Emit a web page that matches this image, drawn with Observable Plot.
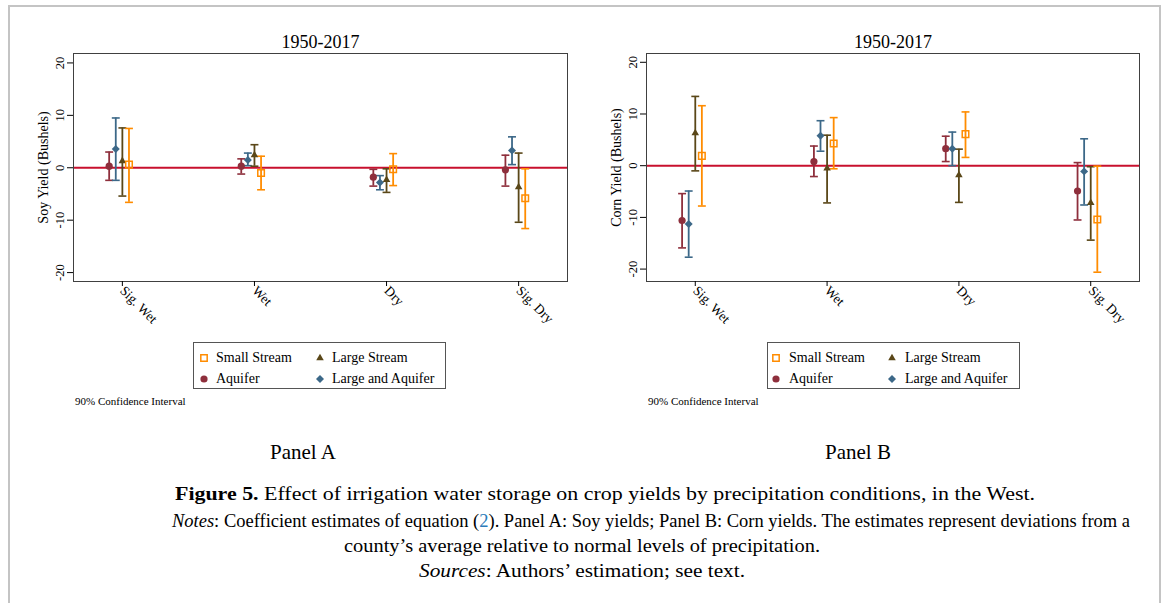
<!DOCTYPE html>
<html><head><meta charset="utf-8">
<script src="https://cdn.jsdelivr.net/npm/d3@7"></script>
<script src="https://cdn.jsdelivr.net/npm/@observablehq/plot@0.6"></script>
<style>
body{margin:0;background:#fff;}
#wrap{position:relative;width:1171px;height:603px;overflow:hidden;background:#fff;font-family:"Liberation Serif","Times New Roman",serif;color:#000;}
#border{position:absolute;left:8px;top:5px;width:1153px;height:660px;border:2px solid #c4c4c4;box-sizing:border-box;}
.panel{position:absolute;top:0;}
.legend{position:absolute;border:1px solid #555;background:#fff;box-sizing:border-box;}
.lt{position:absolute;font-size:14px;line-height:14px;white-space:nowrap;}
.abs{position:absolute;white-space:nowrap;}
.cap{position:absolute;white-space:nowrap;font-size:19px;line-height:20px;transform-origin:0 50%;}
</style></head>
<body><div id="wrap"><div id="border"></div></div>
<script>
// ---- data ----
const categories = ["Sig. Wet", "Wet", "Dry", "Sig. Dry"];
const seriesNames = ["Aquifer", "Large and Aquifer", "Large Stream", "Small Stream"];
const yTicks = [-20, -10, 0, 10, 20];

// Panel A: Soy yields (estimate, lower, upper per category)
const soyAquifer     = [0.3, 0.3, -1.8, -0.4];
const soyAquiferLo   = [-2.4, -1.2, -3.5, -3.5];
const soyAquiferHi   = [3.0, 1.7, -0.3, 2.4];
const soyLargeAq     = [3.6, 1.5, -2.8, 3.3];
const soyLargeAqLo   = [-2.4, 0.4, -4.2, 0.6];
const soyLargeAqHi   = [9.5, 2.8, -1.5, 5.9];
const soyLarge       = [1.3, 2.4, -2.3, -3.7];
const soyLargeLo     = [-5.4, 0.3, -4.7, -10.4];
const soyLargeHi     = [7.6, 4.4, -0.2, 2.8];
const soySmall       = [0.6, -1.0, -0.3, -5.8];
const soySmallLo     = [-6.6, -4.2, -3.4, -11.6];
const soySmallHi     = [7.5, 2.2, 2.7, -0.2];

// Panel B: Corn yields
const cornAquifer    = [-10.6, 0.8, 3.3, -4.9];
const cornAquiferLo  = [-15.9, -2.1, 0.8, -10.5];
const cornAquiferHi  = [-5.4, 3.8, 5.7, 0.6];
const cornLargeAq    = [-11.3, 5.8, 3.3, -1.1];
const cornLargeAqLo  = [-17.7, 2.8, 0.0, -7.6];
const cornLargeAqHi  = [-4.9, 8.7, 6.5, 5.2];
const cornLarge      = [6.3, -0.5, -1.8, -7.2];
const cornLargeLo    = [-1.0, -7.2, -7.1, -14.4];
const cornLargeHi    = [13.4, 5.9, 3.2, -0.2];
const cornSmall      = [1.9, 4.3, 6.1, -10.4];
const cornSmallLo    = [-7.8, -0.6, 1.6, -20.6];
const cornSmallHi    = [11.6, 9.3, 10.4, -0.1];

// ---- styling ----
const colors = {"Aquifer": "#8e2f3c", "Large and Aquifer": "#3c6888", "Large Stream": "#5a4718", "Small Stream": "#ff8c00"};
const dodge = {"Aquifer": -0.1, "Large and Aquifer": -0.05, "Large Stream": 0, "Small Stream": 0.05};
const symbols = {"Aquifer": "circle", "Large and Aquifer": "diamond2", "Large Stream": "triangle2", "Small Stream": "square"};
const cap = 0.03;

function buildRows(est, lo, hi) {
  const rows = [];
  seriesNames.forEach(s => categories.forEach((c, ci) => {
    rows.push({s, c, x: ci + 1 + dodge[s], est: est[s][ci], lo: lo[s][ci], hi: hi[s][ci]});
  }));
  return rows;
}

function panel(yLabel, rows, yDomain, ml, mr) {
  const dotMarks = seriesNames.map(s => {
    const d = rows.filter(r => r.s === s);
    if (s === "Small Stream")
      return Plot.dot(d, {x: "x", y: "est", symbol: () => "square", r: 3.7, stroke: colors[s], strokeWidth: 1.5, fill: "none"});
    return Plot.dot(d, {x: "x", y: "est", symbol: () => symbols[s], r: 3.6, fill: colors[s], stroke: "none"});
  });
  return Plot.plot({
    width: 580, height: 340,
    marginLeft: ml, marginRight: mr, marginTop: 53, marginBottom: 59,
    style: {fontFamily: "'Liberation Serif', serif", background: "transparent", color: "#000"},
    x: {domain: [0.63, 4.37]},
    y: {domain: yDomain},
    color: {domain: seriesNames, range: seriesNames.map(s => colors[s])},
    symbol: {type: "identity"},
    marks: [
      Plot.ruleY([0], {stroke: "#c8102e", strokeWidth: 2}),
      Plot.ruleX(rows, {x: "x", y1: "lo", y2: "hi", stroke: "s", strokeWidth: 1.8}),
      Plot.link(rows, {x1: d => d.x - cap, x2: d => d.x + cap, y1: "hi", y2: "hi", stroke: "s", strokeWidth: 1.6}),
      Plot.link(rows, {x1: d => d.x - cap, x2: d => d.x + cap, y1: "lo", y2: "lo", stroke: "s", strokeWidth: 1.6}),
      ...dotMarks,
      Plot.frame({stroke: "#404040", strokeWidth: 1}),
      Plot.axisY({ticks: yTicks, tickFormat: d => String(d), tickSize: 6, tickPadding: 4, tickRotate: -90, fontSize: 12.5, label: null}),
      Plot.axisX({ticks: [1, 2, 3, 4], tickFormat: d => categories[d - 1], tickRotate: 45, tickSize: 5, tickPadding: 2, fontSize: 13.5, label: null}),
      Plot.text([yLabel], {frameAnchor: "left", textAnchor: "middle", lineAnchor: "middle", dx: -30, rotate: -90, fontSize: 14}),
      Plot.text(["1950-2017"], {frameAnchor: "top", lineAnchor: "middle", dy: -11, fontSize: 18})
    ]
  });
}

const rowsA = buildRows(
  {"Aquifer": soyAquifer, "Large and Aquifer": soyLargeAq, "Large Stream": soyLarge, "Small Stream": soySmall},
  {"Aquifer": soyAquiferLo, "Large and Aquifer": soyLargeAqLo, "Large Stream": soyLargeLo, "Small Stream": soySmallLo},
  {"Aquifer": soyAquiferHi, "Large and Aquifer": soyLargeAqHi, "Large Stream": soyLargeHi, "Small Stream": soySmallHi});
const rowsB = buildRows(
  {"Aquifer": cornAquifer, "Large and Aquifer": cornLargeAq, "Large Stream": cornLarge, "Small Stream": cornSmall},
  {"Aquifer": cornAquiferLo, "Large and Aquifer": cornLargeAqLo, "Large Stream": cornLargeLo, "Small Stream": cornSmallLo},
  {"Aquifer": cornAquiferHi, "Large and Aquifer": cornLargeAqHi, "Large Stream": cornLargeHi, "Small Stream": cornSmallHi});

const wrap = document.getElementById("wrap");
const pA = panel("Soy Yield (Bushels)", rowsA, [-21.7, 21.8], 73, 13);
pA.classList.add("panel"); pA.style.left = "0px";
wrap.appendChild(pA);
const pB = panel("Corn Yield (Bushels)", rowsB, [-22.4, 21.7], 66, 21);
pB.classList.add("panel"); pB.style.left = "580px";
wrap.appendChild(pB);

// ---- legends ----
const legendOrder = [["Small Stream", 0, 0], ["Large Stream", 1, 0], ["Aquifer", 0, 1], ["Large and Aquifer", 1, 1]];
function legend(left, symX, txtX) {
  const box = document.createElement("div");
  box.className = "legend";
  Object.assign(box.style, {left: left + "px", top: "342px", width: "253px", height: "47px"});
  legendOrder.forEach(([s, col, row]) => {
    const cy = 14.5 + row * 21;
    const svg = d3.create("svg").attr("width", 14).attr("height", 14)
      .style("position", "absolute").style("left", (symX[col] - 7) + "px").style("top", (cy - 7) + "px");
    const sym = {"circle": d3.symbolCircle, "diamond2": d3.symbolDiamond2, "triangle2": d3.symbolTriangle2, "square": d3.symbolSquare}[symbols[s]];
    const p = svg.append("path").attr("transform", "translate(7,7)")
      .attr("d", d3.symbol(sym, Math.PI * 3.6 * 3.6)());
    if (s === "Small Stream") p.attr("fill", "none").attr("stroke", colors[s]).attr("stroke-width", 1.5);
    else p.attr("fill", colors[s]);
    box.appendChild(svg.node());
    const t = document.createElement("div");
    t.className = "lt"; t.textContent = s;
    t.style.left = txtX[col] + "px"; t.style.top = (cy - 7) + "px";
    box.appendChild(t);
  });
  wrap.appendChild(box);
}
legend(193, [10, 126], [22, 138]);
legend(767, [8, 124], [21, 137]);

function addText(txt, left, top, size, extra) {
  const d = document.createElement("div");
  d.className = "abs"; d.innerHTML = txt;
  Object.assign(d.style, {left: left + "px", top: top + "px", fontSize: size + "px", lineHeight: size + "px"}, extra || {});
  wrap.appendChild(d);
  return d;
}
addText("90% Confidence Interval", 75, 396, 11);
addText("90% Confidence Interval", 648, 396, 11);
const pa = addText("Panel A", 0, 442, 21);
const pbt = addText("Panel B", 0, 442, 21);
pa.style.left = (303 - pa.offsetWidth / 2) + "px";
pbt.style.left = (858 - pbt.offsetWidth / 2) + "px";

// ---- caption ----
const capLines = [
  ["<b>Figure 5.</b> Effect of irrigation water storage on crop yields by precipitation conditions, in the West.", 175, 1035, 494],
  ["<i>Notes</i>: Coefficient estimates of equation (<span style='color:#2b7bb9'>2</span>). Panel A: Soy yields; Panel B: Corn yields. The estimates represent deviations from a", 172, 1130, 521],
  ["county’s average relative to normal levels of precipitation.", 344, 820, 546],
  ["<i>Sources</i>: Authors’ estimation; see text.", 419, 745, 571]
];
capLines.forEach(([html, x0, x1, cy]) => {
  const d = document.createElement("div");
  d.className = "cap"; d.innerHTML = html;
  d.style.left = x0 + "px"; d.style.top = (cy - 10) + "px";
  wrap.appendChild(d);
  const w = d.getBoundingClientRect().width;
  d.style.transform = "scaleX(" + ((x1 - x0) / w) + ")";
});
</script>
</body></html>
